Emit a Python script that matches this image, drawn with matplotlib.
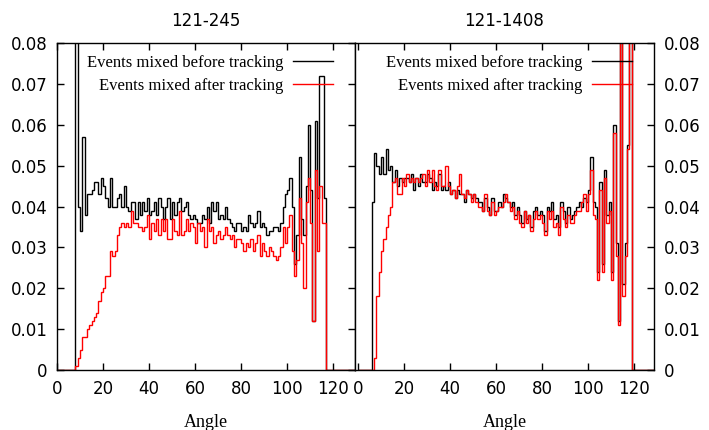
import numpy as np
import matplotlib.pyplot as plt

# angle histograms, 1 degree bins
titles = ['121-245', '121-1408']
labels = ['Events mixed before tracking', 'Events mixed after tracking']

left_start = 8
left_before = [0.120, 0.040, 0.034, 0.057, 0.038, 0.043, 0.043, 0.044, 0.046, 0.046,
               0.043, 0.047, 0.045, 0.042, 0.040, 0.047, 0.040, 0.040, 0.042, 0.043,
               0.040, 0.045, 0.040, 0.039, 0.041, 0.041, 0.037, 0.041, 0.038, 0.041,
               0.039, 0.042, 0.038, 0.039, 0.041, 0.038, 0.042, 0.040, 0.037, 0.040,
               0.042, 0.037, 0.041, 0.038, 0.041, 0.042, 0.039, 0.040, 0.041, 0.038,
               0.037, 0.038, 0.037, 0.036, 0.036, 0.038, 0.037, 0.040, 0.036, 0.041,
               0.039, 0.041, 0.037, 0.038, 0.037, 0.040, 0.037, 0.036, 0.035, 0.034,
               0.036, 0.036, 0.034, 0.035, 0.034, 0.038, 0.036, 0.035, 0.036, 0.039,
               0.035, 0.036, 0.035, 0.033, 0.034, 0.034, 0.035, 0.035, 0.034, 0.036,
               0.040, 0.043, 0.044, 0.047, 0.040, 0.026, 0.033, 0.052, 0.037, 0.033,
               0.045, 0.060, 0.044, 0.012, 0.061, 0.042, 0.072, 0.072, 0.042]
left_after = [0.001, 0.003, 0.005, 0.008, 0.008, 0.010, 0.011, 0.012, 0.013, 0.014,
              0.017, 0.019, 0.020, 0.023, 0.023, 0.029, 0.028, 0.029, 0.033, 0.035,
              0.036, 0.035, 0.036, 0.035, 0.039, 0.036, 0.036, 0.035, 0.035, 0.034,
              0.035, 0.038, 0.032, 0.036, 0.034, 0.037, 0.033, 0.037, 0.034, 0.037,
              0.032, 0.032, 0.037, 0.034, 0.033, 0.039, 0.033, 0.034, 0.037, 0.034,
              0.036, 0.035, 0.031, 0.036, 0.034, 0.035, 0.030, 0.037, 0.034, 0.035,
              0.031, 0.033, 0.034, 0.032, 0.033, 0.035, 0.033, 0.032, 0.033, 0.030,
              0.032, 0.032, 0.031, 0.029, 0.031, 0.030, 0.032, 0.029, 0.031, 0.033,
              0.028, 0.031, 0.029, 0.028, 0.030, 0.029, 0.028, 0.027, 0.028, 0.030,
              0.035, 0.031, 0.035, 0.038, 0.029, 0.023, 0.027, 0.042, 0.031, 0.020,
              0.041, 0.047, 0.036, 0.012, 0.049, 0.029, 0.045, 0.036, 0.036]

right_start_before = 6
right_before = [0.041, 0.053, 0.050, 0.048, 0.052, 0.048, 0.054, 0.049, 0.050, 0.046,
                0.049, 0.045, 0.047, 0.046, 0.047, 0.047, 0.046, 0.048, 0.044, 0.047,
                0.045, 0.048, 0.046, 0.046, 0.048, 0.047, 0.044, 0.046, 0.045, 0.048,
                0.044, 0.045, 0.044, 0.046, 0.043, 0.044, 0.042, 0.044, 0.043, 0.043,
                0.041, 0.044, 0.043, 0.042, 0.043, 0.042, 0.041, 0.041, 0.039, 0.042,
                0.040, 0.038, 0.042, 0.039, 0.039, 0.041, 0.040, 0.043, 0.042, 0.041,
                0.040, 0.041, 0.038, 0.040, 0.038, 0.036, 0.039, 0.037, 0.038, 0.035,
                0.039, 0.040, 0.038, 0.039, 0.038, 0.034, 0.040, 0.039, 0.041, 0.037,
                0.038, 0.035, 0.041, 0.039, 0.036, 0.040, 0.037, 0.038, 0.039, 0.040,
                0.041, 0.040, 0.042, 0.041, 0.044, 0.052, 0.041, 0.040, 0.024, 0.046,
                0.026, 0.049, 0.038, 0.041, 0.024, 0.060, 0.031, 0.012, 0.120, 0.021,
                0.031, 0.055, 0.120]
right_start_after = 7
right_after = [0.003, 0.018, 0.024, 0.029, 0.032, 0.035, 0.038, 0.040, 0.046, 0.047,
               0.043, 0.043, 0.047, 0.045, 0.048, 0.046, 0.047, 0.046, 0.047, 0.046,
               0.047, 0.048, 0.045, 0.049, 0.046, 0.049, 0.045, 0.044, 0.049, 0.045,
               0.045, 0.050, 0.045, 0.043, 0.044, 0.042, 0.045, 0.048, 0.043, 0.042,
               0.044, 0.043, 0.041, 0.043, 0.041, 0.040, 0.040, 0.039, 0.043, 0.039,
               0.038, 0.041, 0.038, 0.039, 0.040, 0.040, 0.041, 0.043, 0.041, 0.039,
               0.040, 0.037, 0.039, 0.036, 0.035, 0.039, 0.036, 0.038, 0.034, 0.037,
               0.039, 0.037, 0.038, 0.036, 0.033, 0.039, 0.037, 0.039, 0.035, 0.036,
               0.033, 0.040, 0.037, 0.035, 0.038, 0.036, 0.036, 0.038, 0.039, 0.039,
               0.041, 0.043, 0.039, 0.043, 0.049, 0.038, 0.037, 0.022, 0.044, 0.024,
               0.047, 0.036, 0.039, 0.022, 0.058, 0.028, 0.011, 0.120, 0.018, 0.028,
               0.054, 0.120]

nbins = 130
serif = 'Liberation Serif'


def full(start, vals):
    out = np.zeros(nbins)
    out[start:start + len(vals)] = vals
    return out


edges = np.arange(nbins + 1)

fig = plt.figure(figsize=(7.09, 4.30), dpi=100)
ax1 = fig.add_axes([0.0804, 0.1395, 0.4203, 0.7605])
ax2 = fig.add_axes([0.5007, 0.1395, 0.4217, 0.7605])

ax1.stairs(full(left_start, left_before), edges, color='black', lw=1, label=labels[0])
ax1.stairs(full(left_start, left_after), edges, color='red', lw=1, label=labels[1])
ax2.stairs(full(right_start_before, right_before), edges, color='black', lw=1, label=labels[0])
ax2.stairs(full(right_start_after, right_after), edges, color='red', lw=1, label=labels[1])

ax1.set_xlim(0, 129.5)
ax2.set_xlim(-1.3, 128.7)

for ax, t in zip([ax1, ax2], titles):
    ax.set_ylim(0, 0.08)
    ax.set_xticks(np.arange(0, 121, 20))
    ax.set_yticks(np.arange(0, 0.081, 0.01))
    ax.set_yticklabels(['0'] + ['%.2f' % v for v in np.arange(0.01, 0.081, 0.01)])
    ax.tick_params(direction='in', length=5, width=1, labelsize=12, pad=7,
                   top=True, bottom=True)
    for s in ax.spines.values():
        s.set_linewidth(1)
    ax.set_title(t, fontsize=12, pad=12)
    ax.set_xlabel('Angle', family=serif, fontsize=13, labelpad=12)
    ax.legend(loc='upper right', bbox_to_anchor=(0.966, 1.0), frameon=False,
              markerfirst=False, prop={'family': serif, 'size': 12},
              handlelength=2.4, handletextpad=0.6, labelspacing=0.43,
              borderaxespad=0.3)

ax1.tick_params(axis='y', left=True, right=True, labelleft=True, labelright=False)
ax2.tick_params(axis='y', left=False, right=True, labelleft=False, labelright=True)

plt.savefig('out.png', dpi=100)
